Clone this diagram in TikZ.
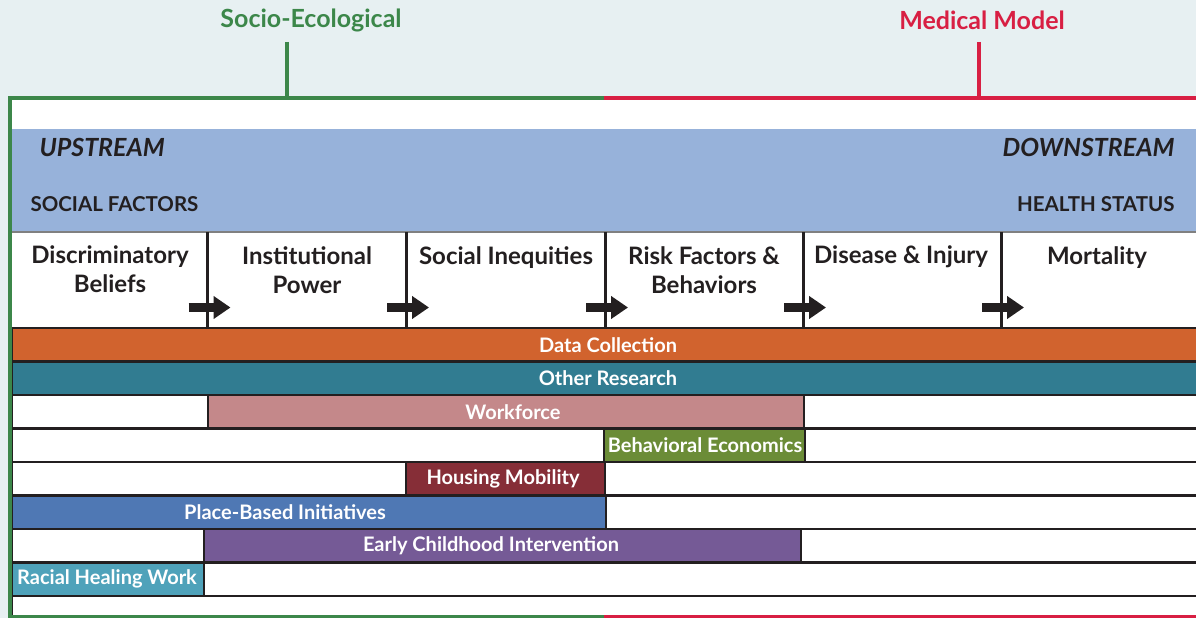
\documentclass[tikz,border=0pt]{standalone}
\usepackage{fontspec}
\setmainfont{Lato}
\usetikzlibrary{arrows.meta}
\definecolor{paper}{HTML}{E7F0F2}
\definecolor{ink}{HTML}{231F20}
\definecolor{ecogreen}{HTML}{3C874A}
\definecolor{medred}{HTML}{D81F43}
\definecolor{band}{HTML}{97B2DA}
\definecolor{datacol}{HTML}{D1632E}
\definecolor{research}{HTML}{317C91}
\definecolor{workforce}{HTML}{C4888A}
\definecolor{behav}{HTML}{6B8C37}
\definecolor{housing}{HTML}{862E37}
\definecolor{place}{HTML}{4F78B4}
\definecolor{childhood}{HTML}{755A96}
\definecolor{healing}{HTML}{4FA2BA}
\begin{document}
\begin{tikzpicture}[x=1pt,y=-1pt,
	cell/.style={anchor=north,align=center,inner sep=0pt,text=ink,font=\bfseries\fontsize{24}{29}\selectfont},
	bar/.style={draw=ink,line width=2.5pt},
	barlabel/.style={text=white,font=\bfseries\fontsize{20}{22}\selectfont},
	flow/.style={ink,line width=9pt,-{Triangle[length=17pt,width=22pt]}}]
		\fill[paper] (0,0) rectangle (1196,618);
		\useasboundingbox (0,0) rectangle (1196,618);
		\fill[white] (12,100) rectangle (1204,616);

		\node[text=ecogreen,font=\bfseries\fontsize{25}{28}\selectfont] (socio) at (311,20) {Socio-Ecological};
		\node[text=medred,font=\bfseries\fontsize{25}{28}\selectfont] (medical) at (982,20) {Medical Model};

		\fill[band] (12,129) rectangle (1204,232);
		\node[anchor=west,text=ink,font=\bfseries\itshape\fontsize{25}{28}\selectfont] (up) at (36,147) {UPSTREAM};
		\node[anchor=east,text=ink,font=\bfseries\itshape\fontsize{25}{28}\selectfont] (down) at (1178,147) {DOWNSTREAM};
		\node[anchor=west,text=ink,font=\bfseries\fontsize{20.5}{22}\selectfont] (social) at (27,204) {SOCIAL FACTORS};
		\node[anchor=east,text=ink,font=\bfseries\fontsize{20.5}{22}\selectfont] (health) at (1178,204) {HEALTH STATUS};

		\draw[gray,line width=1.5pt] (12,232) -- (1204,232);
		\foreach \x in {207.5,406,605,803,1001}
			\draw[ink,line width=3pt] (\x,232) -- (\x,328);
		\node[cell] (belief) at (110,246) {Discriminatory\\Beliefs};
		\node[cell] (power) at (307,246) {Institutional\\Power};
		\node[cell] (inequity) at (506,246) {Social Inequities};
		\node[cell] (risk) at (704,246) {Risk Factors \&\\Behaviors};
		\node[cell] (disease) at (901,246) {Disease \& Injury};
		\node[cell] (mortality) at (1097,246) {Mortality};
		\coordinate (d1) at (207.5,307.5);
		\coordinate (d2) at (406,307.5);
		\coordinate (d3) at (605,307.5);
		\coordinate (d4) at (803,307.5);
		\coordinate (d5) at (1001,307.5);
		\foreach \d in {d1,d2,d3,d4,d5}
			\draw[flow] ([xshift=-19pt]\d) -- ([xshift=23pt]\d);

		\foreach \y in {395,428.5,462,495.5,529,562.5}
			\draw[bar,fill=white] (12,\y) rectangle (1204,\y+33.5);
		\draw[bar,fill=white] (12,596) rectangle (1204,640);
		\draw[bar,fill=datacol] (12,328) rectangle (1204,361.5);
		\draw[bar,fill=research] (12,361.5) rectangle (1204,395);
		\draw[bar,fill=workforce] (208,395) rectangle (804,428.5);
		\draw[bar,fill=behav] (604,428.5) rectangle (805,462);
		\draw[bar,fill=housing] (406,462) rectangle (605,495.5);
		\draw[bar,fill=place] (12,495.5) rectangle (606,529);
		\draw[bar,fill=childhood] (204,529) rectangle (801,562.5);
		\draw[bar,fill=healing] (12,562.5) rectangle (204,596);
		\node[barlabel] (data) at (608,345) {Data Collection};
		\node[barlabel] (other) at (608,378) {Other Research};
		\node[barlabel] (work) at (513,412) {Workforce};
		\node[barlabel] (econ) at (705,445) {Behavioral Economics};
		\node[barlabel] (move) at (503,479) {Housing Mobility};
		\node[barlabel] (basis) at (285,512) {Place-Based Initiatives};
		\node[barlabel] (early) at (491,546) {Early Childhood Intervention};
		\node[barlabel] (racial) at (107,579) {Racial Healing Work};

		\draw[ecogreen,line width=4.5pt] (287,42) -- (287,98);
		\draw[medred,line width=4.5pt] (979,42) -- (979,98);
		\draw[ecogreen,line width=4.5pt] (604,617) -- (10,617) -- (10,98) -- (604,98);
		\draw[medred,line width=4.5pt] (604,98) -- (1204,98);
		\draw[medred,line width=4.5pt] (604,617) -- (1204,617);
	\end{tikzpicture}
\end{document}
